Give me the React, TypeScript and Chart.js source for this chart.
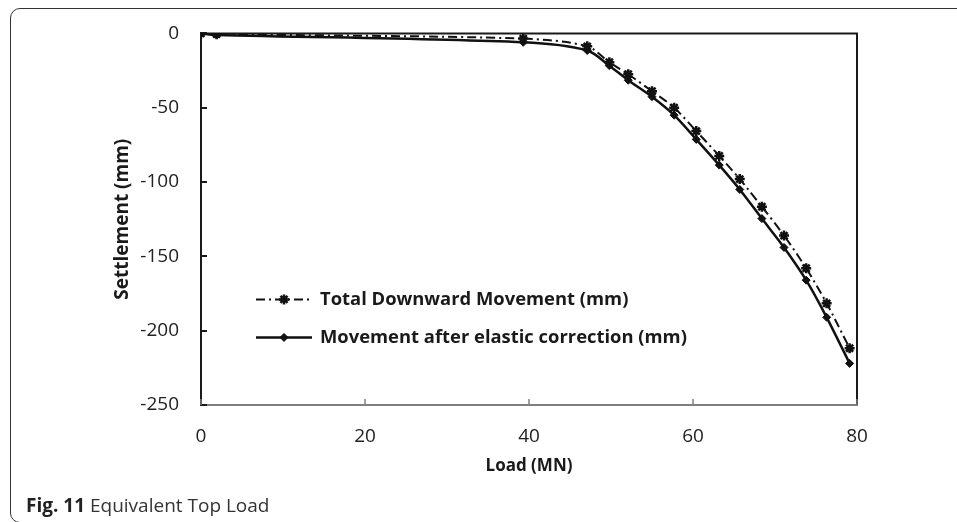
import React, { useEffect, useRef } from "react";
import { Chart, registerables } from "chart.js";
import { drawPoint } from "chart.js/helpers";

Chart.register(...registerables);

// ---- Data ----
const loadMN = [0, 1.9, 39.3, 47.1, 49.8, 52.1, 55.0, 57.7, 60.4, 63.2, 65.7, 68.4, 71.1, 73.8, 76.3, 79.1];
const totalMovement = [0, -0.5, -3.5, -8.7, -19.4, -27.5, -38.9, -50, -65.7, -82.4, -98, -116.6, -136, -158, -181.6, -211.8];
const correctedMovement = [0, -1, -6, -11.5, -21.7, -31.5, -42.6, -55, -71.3, -88.6, -105, -124.6, -144, -166, -191, -222];

const xTickValues = [0, 20, 40, 60, 80];
const yTickValues = [0, -50, -100, -150, -200, -250];

const seriesLabels = ["Total Downward Movement (mm)", "Movement after elastic correction (mm)"];
const xTitle = "Load (MN)";
const yTitle = "Settlement (mm)";
const captionBold = "Fig. 11";
const captionText = "Equivalent Top Load";

const FONT = '"Open Sans", "DejaVu Sans", sans-serif';

const seriesStyles = [
  { dash: [9, 4, 2, 4], width: 2, pointStyle: "star", radius: 5, pointBorder: 2.5 },
  { dash: [], width: 2.5, pointStyle: "rectRot", radius: 4, pointBorder: 1 },
];

const framePlugin = {
  id: "frameTicks",
  beforeDatasetsDraw(chart: any) {
    const { ctx, chartArea } = chart;
    const xs = chart.scales.x;
    const ys = chart.scales.y;
    ctx.save();
    ctx.setLineDash([]);
    ctx.strokeStyle = "#1a1a1a";
    ctx.lineWidth = 2;
    ctx.beginPath();
    ctx.moveTo(chartArea.left, chartArea.top);
    ctx.lineTo(chartArea.right, chartArea.top);
    ctx.lineTo(chartArea.right, chartArea.bottom);
    ctx.stroke();
    ctx.lineWidth = 2;
    ctx.strokeStyle = "#1a1a1a";
    for (const v of yTickValues) {
      const py = Math.round(ys.getPixelForValue(v));
      ctx.beginPath();
      ctx.moveTo(chartArea.left, py);
      ctx.lineTo(chartArea.left + 6, py);
      ctx.stroke();
    }
    ctx.strokeStyle = "#808080";
    ctx.lineWidth = 1.5;
    for (const v of xTickValues) {
      const px = Math.round(xs.getPixelForValue(v));
      ctx.beginPath();
      ctx.moveTo(px, chartArea.bottom);
      ctx.lineTo(px, chartArea.bottom - 6);
      ctx.stroke();
    }
    ctx.restore();
  },
};

const legendPlugin = {
  id: "customLegend",
  afterDraw(chart: any) {
    const { ctx, chartArea } = chart;
    const x0 = chartArea.left + 55;
    const y0 = chartArea.top + 266;
    const gap = 38;
    ctx.save();
    seriesLabels.forEach((label, i) => {
      const st = seriesStyles[i];
      const y = y0 + i * gap;
      ctx.strokeStyle = "#111";
      ctx.fillStyle = "#111";
      ctx.lineWidth = st.width;
      ctx.setLineDash(st.dash);
      ctx.beginPath();
      ctx.moveTo(x0, y);
      ctx.lineTo(x0 + 56, y);
      ctx.stroke();
      ctx.setLineDash([]);
      ctx.lineWidth = st.pointBorder;
      drawPoint(ctx, { pointStyle: st.pointStyle, radius: st.radius, rotation: 0, borderWidth: st.pointBorder }, x0 + 28, y);
      ctx.font = `bold 18.4px ${FONT}`;
      ctx.fillStyle = "#1a1a1a";
      ctx.textBaseline = "middle";
      ctx.textAlign = "left";
      ctx.fillText(label, x0 + 64, y);
    });
    ctx.restore();
  },
};

export default function App() {
  const canvasRef = useRef<HTMLCanvasElement | null>(null);

  useEffect(() => {
    const canvas = canvasRef.current;
    if (!canvas) return;
    const mk = (vals: number[]) => loadMN.map((x, i) => ({ x, y: vals[i] }));
    const chart = new Chart(canvas, {
      type: "line",
      data: {
        datasets: [
          {
            label: seriesLabels[0],
            data: mk(totalMovement),
            borderColor: "#111",
            backgroundColor: "#111",
            borderWidth: seriesStyles[0].width,
            borderDash: seriesStyles[0].dash,
            pointStyle: seriesStyles[0].pointStyle as any,
            pointRadius: seriesStyles[0].radius,
            pointBorderWidth: seriesStyles[0].pointBorder,
            pointBackgroundColor: "#111",
            pointBorderColor: "#111",
            tension: 0.3,
            fill: false,
          },
          {
            label: seriesLabels[1],
            data: mk(correctedMovement),
            borderColor: "#111",
            backgroundColor: "#111",
            borderWidth: seriesStyles[1].width,
            pointStyle: seriesStyles[1].pointStyle as any,
            pointRadius: seriesStyles[1].radius,
            pointBorderWidth: seriesStyles[1].pointBorder,
            pointBackgroundColor: "#111",
            pointBorderColor: "#111",
            tension: 0.3,
            fill: false,
          },
        ],
      },
      options: {
        animation: false,
        responsive: false,
        devicePixelRatio: 1,
        layout: { padding: { left: 101, top: 32, right: 100, bottom: 27 } },
        plugins: { legend: { display: false }, tooltip: { enabled: false } },
        scales: {
          x: {
            type: "linear",
            min: 0,
            max: 80,
            afterBuildTicks: (s: any) => { s.ticks = xTickValues.map((v) => ({ value: v })); },
            ticks: { padding: 20, color: "#222", font: { family: FONT, size: 19 } },
            grid: { display: false, drawTicks: false },
            border: { display: true, color: "#7f7f7f", width: 2 },
            title: {
              display: true,
              text: xTitle,
              color: "#1a1a1a",
              font: { family: FONT, size: 17, weight: "bold" },
              padding: { top: 0, bottom: 19 },
            },
            afterFit: (s: any) => { s.height = 90; },
          },
          y: {
            type: "linear",
            min: -250,
            max: 0,
            afterBuildTicks: (s: any) => { s.ticks = yTickValues.map((v) => ({ value: v })); },
            ticks: { padding: 22, color: "#222", font: { family: FONT, size: 19 } },
            grid: { display: false, drawTicks: false },
            border: { display: true, color: "#1a1a1a", width: 2 },
            title: {
              display: true,
              text: yTitle,
              color: "#1a1a1a",
              font: { family: FONT, size: 19, weight: "bold" },
              padding: { top: 10.5, bottom: 0 },
            },
            afterFit: (s: any) => { s.width = 100; },
          },
        },
      } as any,
      plugins: [framePlugin, legendPlugin],
    });
    return () => chart.destroy();
  }, []);

  return (
    <div style={{ position: "fixed", left: 0, top: 0, width: 957, height: 522, overflow: "hidden", background: "#fff" }}>
      <div
        style={{
          position: "absolute",
          left: 10,
          top: 8,
          width: 1000,
          height: 515,
          border: "1.5px solid #333",
          borderRadius: 10,
          boxSizing: "border-box",
        }}
      />
      <canvas
        ref={canvasRef}
        width={957}
        height={522}
        style={{ position: "absolute", left: 0, top: 0, width: 957, height: 522 }}
      />
      <div
        style={{
          position: "absolute",
          left: 26,
          top: 492,
          fontFamily: FONT,
          fontSize: 19,
          lineHeight: "26px",
          color: "#333",
          whiteSpace: "nowrap",
        }}
      >
        <b style={{ color: "#222" }}>{captionBold}</b> {captionText}
      </div>
    </div>
  );
}
